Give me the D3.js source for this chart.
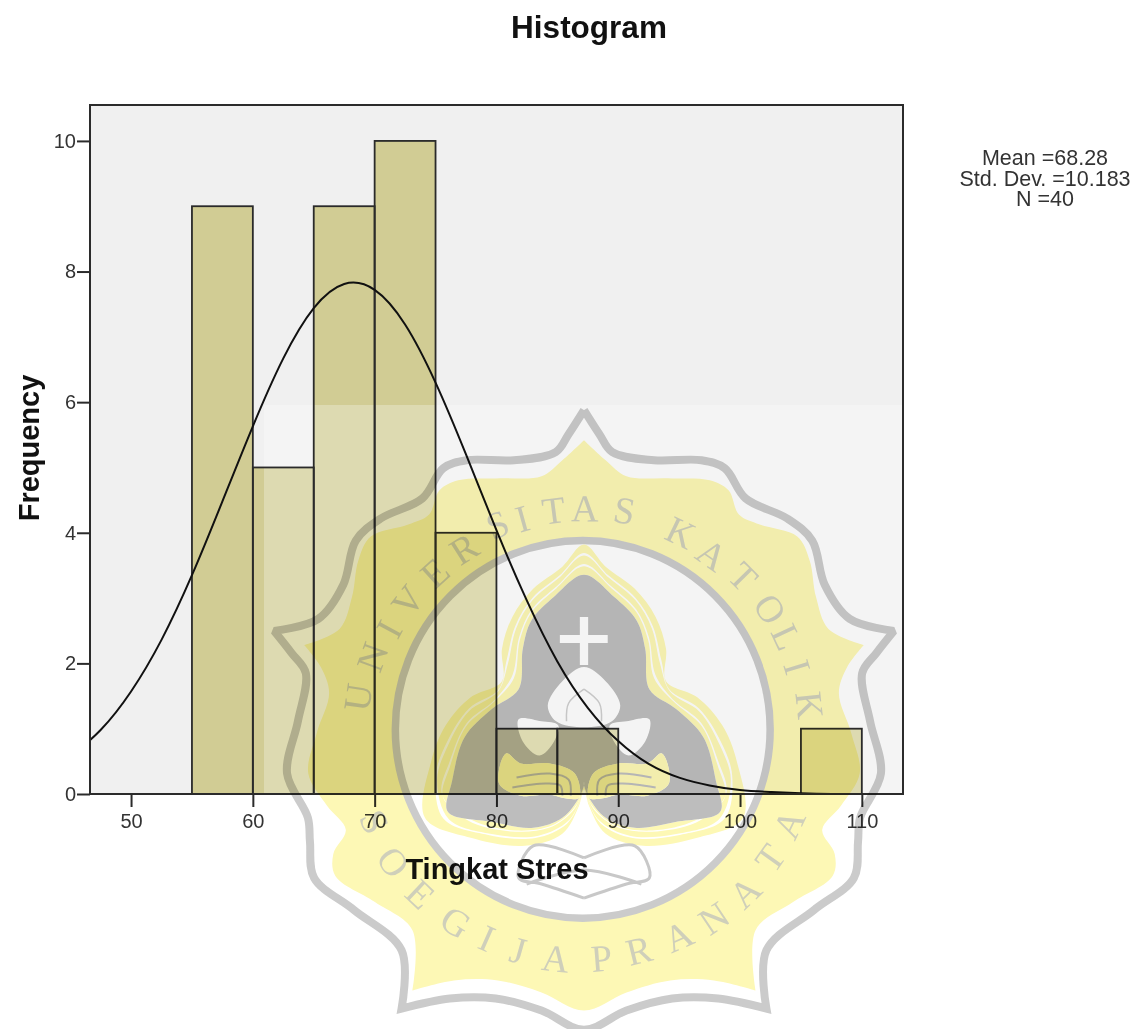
<!DOCTYPE html>
<html><head><meta charset="utf-8">
<script src="https://cdn.jsdelivr.net/npm/d3@7"></script>
<style>
html,body{margin:0;padding:0;background:#fff}
svg{display:block;filter:blur(.5px)}
text{font-family:"Liberation Sans",Arial,sans-serif}
</style></head><body>
<svg id="c" width="1138" height="1029"></svg>
<script>
// ---- chart data ----
const binStarts = [55,60,65,70,75,80,85,105];
const binWidth = 5;
const binCounts = [9,5,9,10,4,1,1,1];
const xTicks = [50,60,70,80,90,100,110];
const yTicks = [0,2,4,6,8,10];
const curveX = [45,47.5,50,52.5,55,57.5,60,62.5,65,67.5,70,72.5,75,77.5,80,82.5,85,87.5,90,92.5,95,97.5,100,102.5,105,107.5,110,112.5,115];
const curveY = [0.57,0.98,1.57,2.36,3.35,4.48,5.63,6.67,7.44,7.81,7.72,7.19,6.30,5.20,4.04,2.96,2.03,1.32,0.81,0.46,0.25,0.13,0.06,0.03,0.01,0.00,0.00,0.00,0.00];
const statLines = ["Mean =68.28","Std. Dev. =10.183","N =40"];

// ---- watermark geometry (decorative badge, in crop coordinates) ----
const badgeOuter = [[778,25],[778,25],[815,85],[846,130],[946,150],[1060,150],[1116,170],[1166,245],[1266,295],[1326,350],[1356,460],[1416,545],[1522,575],[1522,575],[1480,630],[1446,680],[1465,800],[1491,930],[1441,1040],[1436,1100],[1426,1190],[1330,1270],[1216,1370],[1216,1515],[1216,1515],[1100,1490],[990,1490],[880,1520],[778,1568]];
const badgeInner = [[778,100],[778,100],[830,150],[880,190],[980,195],[1080,200],[1125,225],[1150,285],[1200,310],[1290,340],[1320,400],[1335,490],[1365,570],[1450,610],[1450,610],[1410,665],[1390,730],[1420,830],[1440,930],[1395,1010],[1350,1070],[1380,1130],[1375,1185],[1280,1250],[1190,1320],[1190,1470],[1190,1470],[1090,1445],[985,1445],[880,1475],[778,1520]];
const trefoilOuter = [[778,360],[830,415],[900,470],[950,540],[975,620],[975,700],[1050,740],[1110,810],[1145,900],[1160,1040],[1050,1090],[920,1110],[830,1080],[790,1010],[778,970]];
const trefoilInner = [[778,435],[850,490],[905,550],[925,620],[935,720],[1000,770],[1065,840],[1095,950],[1105,1025],[1000,1050],[900,1065],[830,1040],[790,990],[778,960],[778,950]];
const flame = [[778,665],[830,700],[865,760],[845,800],[778,815]];
const sidePetal = [[935,795],[925,850],[885,885],[850,850],[840,810],[880,800]];
const swirl = [[790,990],[800,930],[860,905],[930,905],[965,880],[982,955],[930,985],[860,982],[830,990]];
const book = [[778,1140],[900,1110],[935,1190],[880,1205],[778,1240]];
const topLetters = [["U",235,740],["N",270,640],["I",310,570],["V",355,500],["E",420,430],["R",490,370],["S",570,310],["I",630,295],["T",705,275],["A",780,270],["S",875,275],["K",1010,330],["A",1085,385],["T",1160,440],["O",1225,520],["L",1265,590],["I",1290,665],["K",1320,760]];
const botLetters = [["S",275,1050],["O",320,1150],["E",385,1230],["G",470,1300],["I",545,1340],["J",620,1370],["A",710,1390],["P",820,1390],["R",910,1370],["A",1005,1335],["N",1090,1290],["A",1165,1225],["T",1225,1140],["A",1270,1055]];

const svg = d3.select("#c");
const L=90,R=903,T=105,B=794;
const x = d3.scaleLinear().domain([46.63,113.38]).range([L,R]);
const y = d3.scaleLinear().domain([0,10.55]).range([B,T]);
const ink="#2b2b2b";

svg.append("clipPath").attr("id","plot").append("rect").attr("x",L).attr("y",T).attr("width",R-L).attr("height",B-T);
svg.append("rect").attr("x",L).attr("y",T).attr("width",R-L).attr("height",B-T).attr("fill","#f0f0f0");

const barAttrs = s => s.attr("x",d=>x(d)).attr("width",d=>x(d+binWidth)-x(d))
  .attr("y",(d,i)=>y(binCounts[i])).attr("height",(d,i)=>y(0)-y(binCounts[i]));
svg.append("g").selectAll("rect").data(binStarts).join("rect").call(barAttrs).attr("fill","#d1cc94");

// pale sheet of the watermark image
svg.append("rect").attr("x",264).attr("y",405).attr("width",874).attr("height",624).attr("fill","#fff").attr("opacity",.27);

svg.append("g").selectAll("rect").data(binStarts).join("rect").call(barAttrs)
  .attr("fill","none").attr("stroke","#2a2a2a").attr("stroke-width",1.8);

svg.append("path").datum(d3.zip(curveX,curveY)).attr("clip-path","url(#plot)")
  .attr("fill","none").attr("stroke","#111").attr("stroke-width",2)
  .attr("d",d3.line().x(d=>x(d[0])).y(d=>y(d[1])).curve(d3.curveNatural));

svg.append("rect").attr("x",L).attr("y",T).attr("width",R-L).attr("height",B-T)
  .attr("fill","none").attr("stroke",ink).attr("stroke-width",2);

const gx = svg.append("g").attr("transform",`translate(0,${B})`).call(d3.axisBottom(x).tickValues(xTicks).tickSize(13).tickPadding(7).tickFormat(d3.format("d")));
const gy = svg.append("g").attr("transform",`translate(${L},0)`).call(d3.axisLeft(y).tickValues(yTicks).tickSize(13).tickPadding(1).tickFormat(d3.format("d")));
[gx,gy].forEach(g=>{
  g.select(".domain").remove();
  g.selectAll("line").attr("stroke",ink).attr("stroke-width",2);
  g.selectAll("text").attr("font-size",20).attr("fill","#333").attr("font-family",'"Liberation Sans",Arial,sans-serif');
});

svg.append("text").attr("x",589).attr("y",38).attr("text-anchor","middle").attr("font-size",31.5).attr("font-weight","bold").attr("fill","#111").text("Histogram");
svg.append("text").attr("transform","translate(39,448) rotate(-90)").attr("text-anchor","middle").attr("font-size",29).attr("font-weight","bold").attr("fill","#111").text("Frequency");
svg.append("text").attr("x",497).attr("y",879).attr("text-anchor","middle").attr("font-size",29).attr("font-weight","bold").attr("fill","#111").text("Tingkat Stres");
svg.append("text").attr("y",165).attr("text-anchor","middle").attr("font-size",21.5).attr("fill","#333")
  .selectAll("tspan").data(statLines).join("tspan").attr("x",1045).attr("dy",(d,i)=>i?20.7:0).text(d=>d);

// ---- watermark ----
const wx = d3.scaleLinear().domain([0,1556]).range([260,908]);
const wy = d3.scaleLinear().domain([0,1566]).range([400,1029]);
const closed = pts => { const a=pts.slice(); const m=a.slice(1,-1).reverse().map(p=>[1556-p[0],p[1]]); return a.concat(m); };
const lineC = d3.line().x(d=>wx(d[0])).y(d=>wy(d[1])).curve(d3.curveCatmullRomClosed.alpha(.5));
const lineO = d3.line().x(d=>wx(d[0])).y(d=>wy(d[1])).curve(d3.curveCatmullRom.alpha(.5));
const flip = pts => pts.map(p=>[1556-p[0],p[1]]);
const cx=wx(775), cy=wy(820), rx=wx(1225)-wx(775), ry=wy(1290)-wy(820);
const ellipseD=(a,b)=>`M${cx-a},${cy}A${a},${b} 0 1,0 ${cx+a},${cy}A${a},${b} 0 1,0 ${cx-a},${cy}Z`;

const W = svg.append("g").style("mix-blend-mode","multiply");
const yellow="#fdf8b5", gray="#cbcbcb";
W.append("path").attr("fill-rule","evenodd").attr("fill",yellow).attr("d",lineC(closed(badgeInner))+ellipseD(rx,ry));
W.append("path").attr("fill","none").attr("stroke",gray).attr("stroke-width",8).attr("stroke-linejoin","miter").attr("stroke-miterlimit",2).attr("d",lineC(closed(badgeOuter)));
W.append("path").attr("fill","none").attr("stroke",gray).attr("stroke-width",7.5).attr("d",ellipseD(rx,ry));

// trefoil: three pale bands, then the grey core with cut-out emblem
const lerp=(t)=>trefoilOuter.map((p,i)=>[p[0]+(trefoilInner[i][0]-p[0])*t,p[1]+(trefoilInner[i][1]-p[1])*t]);
W.append("path").attr("fill-rule","evenodd").attr("fill",yellow)
  .attr("d",[0,.28,.36,.64,.72,1].map(t=>lineC(closed(lerp(t)))).join(""));
const cross = `M${wx(768)},${wy(540)}H${wx(788)}V${wy(585)}H${wx(835)}V${wy(605)}H${wx(788)}V${wy(660)}H${wx(768)}V${wy(605)}H${wx(720)}V${wy(585)}H${wx(768)}Z`;
const grayD = lineC(closed(trefoilInner)) + cross + lineC(closed(flame))
  + lineC(sidePetal) + lineC(flip(sidePetal)) + lineC(swirl) + lineC(flip(swirl));
W.append("path").attr("fill-rule","evenodd").attr("fill","#bdbdbd").attr("d",grayD);
W.append("path").attr("fill",yellow).attr("d",lineC(swirl)+lineC(flip(swirl)));
const flameVein = [[778,720],[815,755],[820,800]];
W.append("path").attr("fill","none").attr("stroke","#cfcfcf").attr("stroke-width",1.5).attr("d",lineO(flameVein)+lineO(flip(flameVein)));
W.append("path").attr("fill","none").attr("stroke","#bdbdbd").attr("stroke-width",2).attr("d",lineO([[810,985],[815,945],[860,930],[940,940]])+lineO([[830,985],[835,960],[870,955],[950,965]])+lineO(flip([[810,985],[815,945],[860,930],[940,940]]))+lineO(flip([[830,985],[835,960],[870,955],[950,965]])));
W.append("path").attr("fill","none").attr("stroke","#c8c8c8").attr("stroke-width",3).attr("d",lineO(book)+lineO(flip(book))+lineO([[640,1205],[778,1170],[916,1205]]));

// lettering
const letter = (sel,data,flipUp)=>sel.selectAll("text").data(data).join("text")
  .attr("text-anchor","middle").attr("dominant-baseline","central")
  .attr("font-size",38).attr("fill","#cfcfba")
  .style("font-family",'"Liberation Serif",serif')
  .attr("transform",d=>{
    const a=Math.atan2(d[1]-775,820-d[2])*180/Math.PI;
    return `translate(${wx(d[1])},${wy(d[2])}) rotate(${flipUp?a+180:a})`;
  }).text(d=>d[0]);
letter(W.append("g"),topLetters,false);
letter(W.append("g"),botLetters,true);
</script>
</body></html>
